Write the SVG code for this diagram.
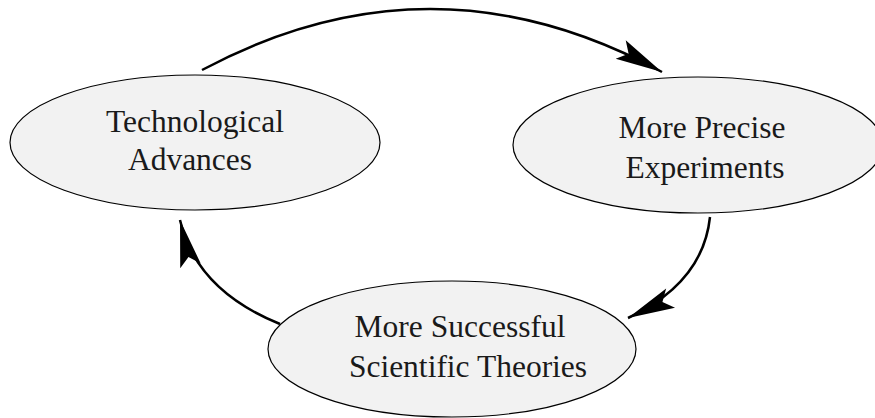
<svg xmlns="http://www.w3.org/2000/svg" width="875" height="418" viewBox="0 0 875 418">
<defs>
<style>
.node ellipse{fill:#f2f2f2;stroke:#000;stroke-width:1.2}
.node text{font-size:31.5px;fill:#1a1a1a;text-anchor:middle}
.edge{fill:none;stroke:#000;stroke-width:2.5;marker-end:url(#stealth)}
</style>
<marker id="stealth" markerUnits="userSpaceOnUse" markerWidth="60" markerHeight="30" viewBox="-50 -15 60 30" refX="0" refY="0" orient="auto">
<path d="M0,0 L-47,-10.5 L-38,0 L-47,10.5 Z" fill="#000"/>
</marker>
</defs>
<g id="tech" class="node" font-family="'Liberation Serif', 'DejaVu Serif', serif">
<ellipse cx="195" cy="142.5" rx="185" ry="67.5"/>
<text x="195" y="132">Technological</text>
<text x="190" y="170">Advances</text>
</g>
<g id="exp" class="node" font-family="'Liberation Serif', 'DejaVu Serif', serif">
<ellipse cx="698" cy="145" rx="185" ry="68"/>
<text x="702" y="138">More Precise</text>
<text x="705" y="178">Experiments</text>
</g>
<g id="theories" class="node" font-family="'Liberation Serif', 'DejaVu Serif', serif">
<ellipse cx="452" cy="349" rx="184" ry="68"/>
<text x="460" y="337">More Successful</text>
<text x="468" y="377">Scientific Theories</text>
</g>
<g id="connectors">
<path class="edge" d="M202,70 Q432,-53 662,72"/>
<path class="edge" d="M710,217 Q703,283 628,318"/>
<path class="edge" d="M280,324 Q196,290 180,220"/>
</g>
</svg>
